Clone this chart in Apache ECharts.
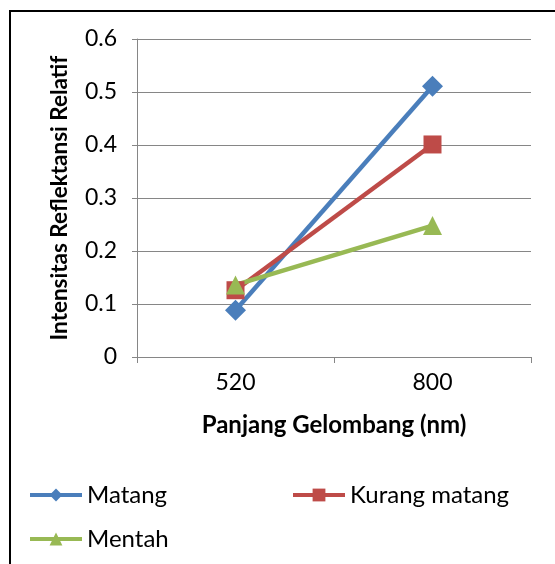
<!DOCTYPE html>
<html>
<head>
<meta charset="utf-8">
<script src="https://cdn.jsdelivr.net/npm/echarts@6/dist/echarts.min.js"></script>
<style>
  html, body { margin: 0; padding: 0; background: #fff; }
  #chart { width: 555px; height: 564px; }
</style>
</head>
<body>
<div id="chart"></div>
<script>
// Wavelengths (nm) on the category axis
const wavelengths = ['520', '800'];
// Relative reflectance intensity per ripeness level
const matang = [0.088, 0.511];
const kurangMatang = [0.126, 0.401];
const mentah = [0.136, 0.248];
// Value axis ticks
const yMin = 0, yMax = 0.6, yStep = 0.1;

const FONT = 'Lato, "Open Sans", sans-serif';
const AXIS_GRAY = '#868686';

const chart = echarts.init(document.getElementById('chart'), null, { renderer: 'canvas' });

function lineSeries(name, data, color, symbol, size) {
  return {
    name, type: 'line', data,
    symbol, symbolSize: size,
    lineStyle: { color, width: 4.5 },
    itemStyle: { color },
    emphasis: { disabled: true },
    animation: false
  };
}

function legendFor(name, left, top) {
  return {
    data: [name], left, top,
    itemWidth: 52, itemHeight: 16, itemGap: 0,
    lineStyle: { width: 4 },
    textStyle: { fontFamily: FONT, fontSize: 24, color: '#000' }
  };
}

chart.setOption({
  animation: false,
  grid: { left: 137, top: 39, width: 394, height: 318, containLabel: false },
  xAxis: {
    type: 'category', data: wavelengths, boundaryGap: true,
    name: 'Panjang Gelombang (nm)', nameLocation: 'middle', nameGap: 56,
    nameTextStyle: { fontFamily: FONT, fontSize: 24, fontWeight: 'bold', color: '#000' },
    axisLine: { lineStyle: { color: AXIS_GRAY, width: 1 } },
    axisTick: { show: true, alignWithLabel: false, length: 6, lineStyle: { color: AXIS_GRAY } },
    axisLabel: { fontFamily: FONT, fontSize: 23, color: '#000', margin: 14 }
  },
  yAxis: {
    type: 'value', min: yMin, max: yMax, interval: yStep,
    name: 'Intensitas Reflektansi Relatif', nameLocation: 'middle', nameGap: 66, nameRotate: 90,
    nameTextStyle: { fontFamily: FONT, fontSize: 22.5, fontWeight: 'bold', color: '#000' },
    axisLine: { show: true, lineStyle: { color: AXIS_GRAY, width: 1 } },
    axisTick: { show: true, length: 5, lineStyle: { color: AXIS_GRAY } },
    splitLine: { show: true, lineStyle: { color: AXIS_GRAY, width: 1 } },
    axisLabel: { fontFamily: FONT, fontSize: 23, color: '#000', margin: 20,
      formatter: v => (v === 0 ? '0' : v.toFixed(1)) }
  },
  legend: [
    legendFor('Matang', 23, 478),
    legendFor('Kurang matang', 286, 478),
    legendFor('Mentah', 23, 522)
  ],
  graphic: [{
    type: 'rect', silent: true, z: 100,
    shape: { x: 10, y: 11, width: 700, height: 700 },
    style: { fill: 'none', stroke: '#000', lineWidth: 2 }
  }],
  series: [
    lineSeries('Matang', matang, '#4A7EBB', 'diamond', 21),
    lineSeries('Kurang matang', kurangMatang, '#BE4B48', 'rect', 18),
    lineSeries('Mentah', mentah, '#98B954', 'triangle', 19)
  ]
});
</script>
</body>
</html>
